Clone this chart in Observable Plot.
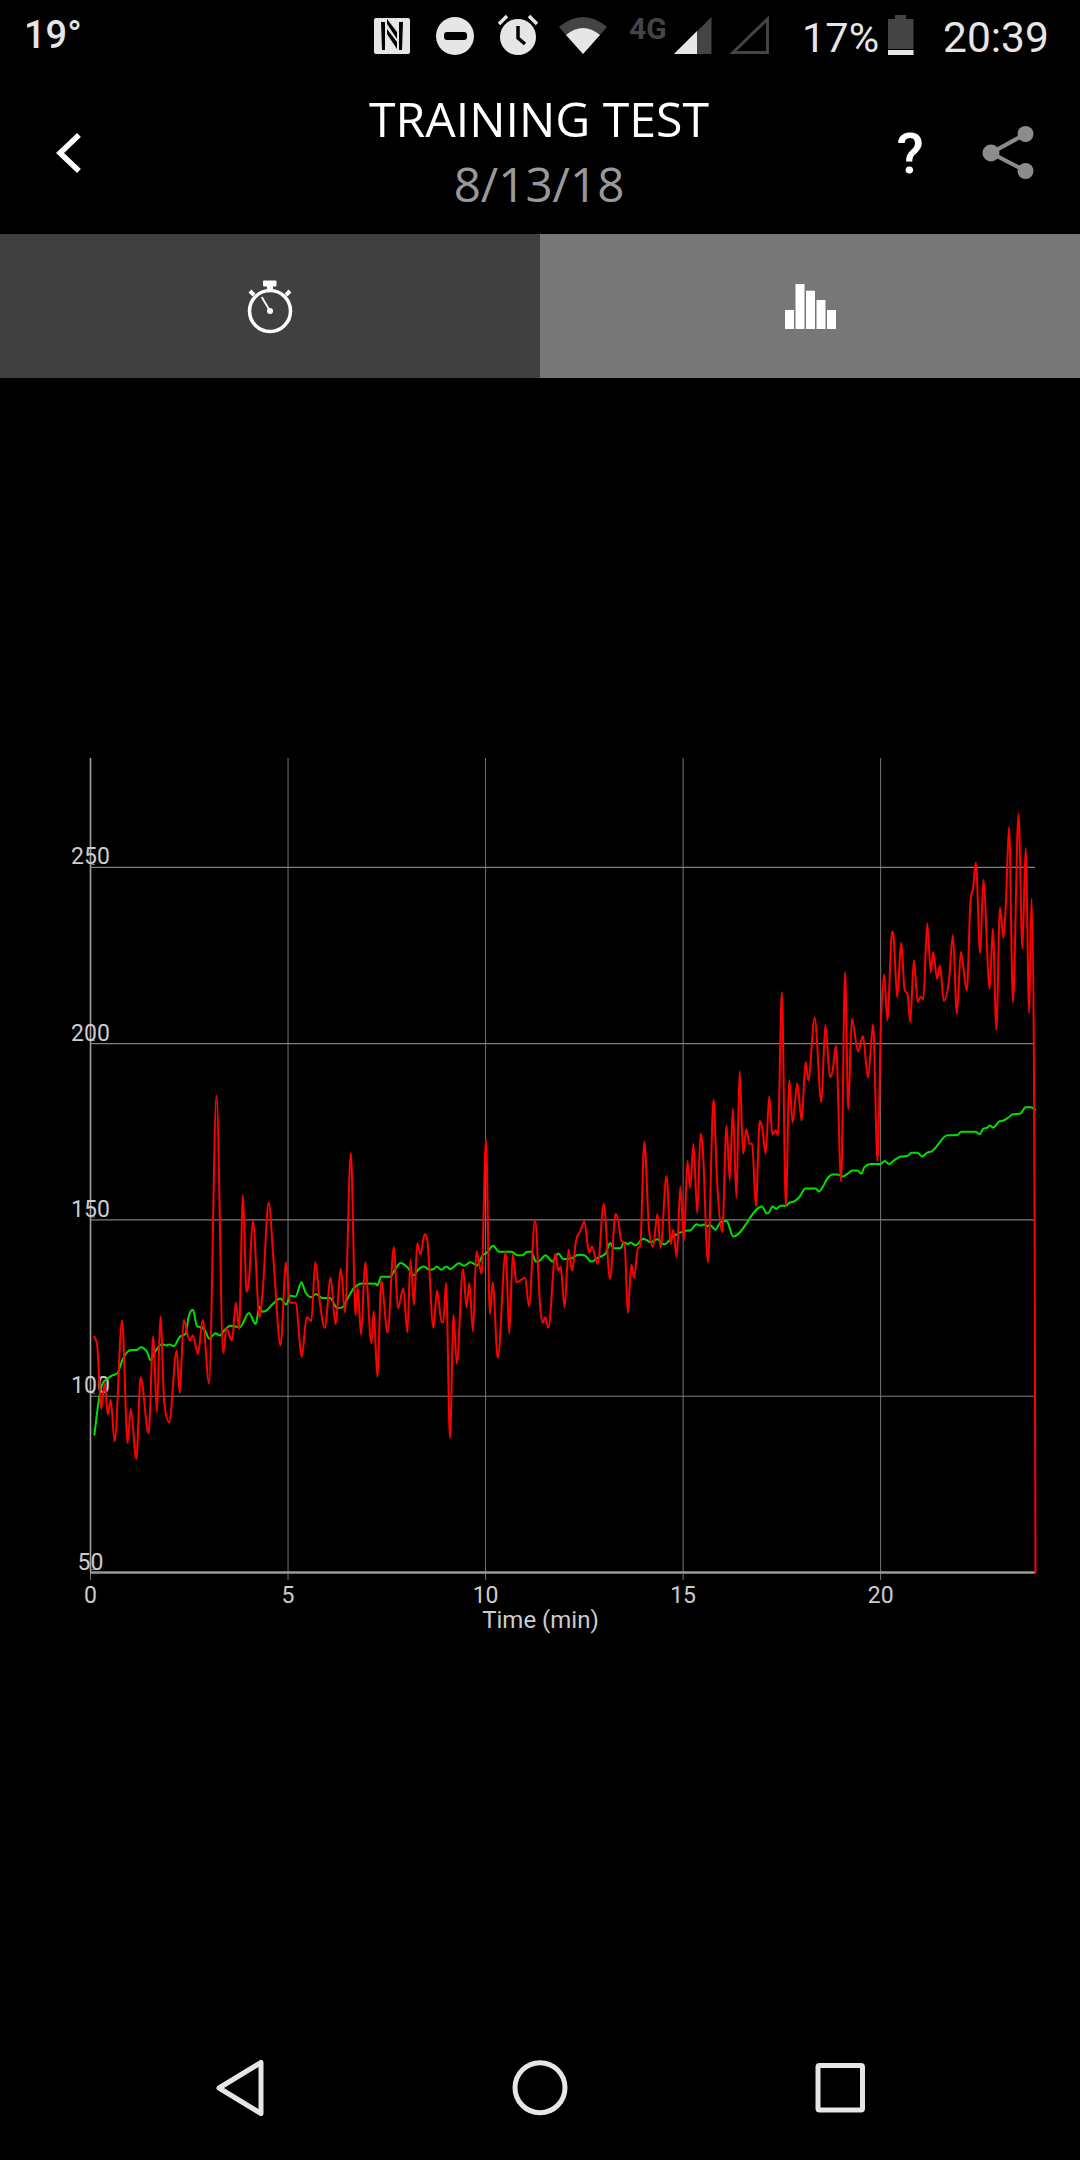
<!DOCTYPE html>
<html>
<head>
<meta charset="utf-8">
<script src="https://cdn.jsdelivr.net/npm/d3@7"></script>
<script src="https://cdn.jsdelivr.net/npm/@observablehq/plot@0.6"></script>
<style>
html,body{margin:0;padding:0;background:#000;}
#page{position:relative;width:1080px;height:2160px;background:#000;overflow:hidden;}
#chrome{position:absolute;left:0;top:0;}
#chart{position:absolute;left:0;top:740px;}
</style>
</head>
<body>
<div id="page">
<svg id="chrome" width="1080" height="2160" viewBox="0 0 1080 2160">
  <!-- status bar -->
  <text x="24" y="48" font-family="Roboto" font-size="38" font-weight="500" fill="#e6e6e6">19°</text>
  <rect x="374" y="18" width="36" height="36" rx="2" fill="#e6e6e6"/>
  <path d="M381 22h4v28h-3zM403 22h-4v28h3zM387 24l10 15v-7l-10-13zM387 34l10 15v-7l-10-13z" fill="#000"/>
  <circle cx="455" cy="36" r="19" fill="#e6e6e6"/>
  <rect x="444" y="32" width="23" height="8" rx="3" fill="#000"/>
  <circle cx="518" cy="37" r="18" fill="#e6e6e6"/>
  <path d="M499 24l8-8M537 24l-8-8" stroke="#e6e6e6" stroke-width="3.5" fill="none"/>
  <path d="M518 26v12l7 6" stroke="#000" stroke-width="3.5" fill="none"/>
  <path d="M559 27Q583 7 607 27L583 54Z" fill="#444"/>
  <path d="M566 35Q583 21 600 35L583 54Z" fill="#e6e6e6"/>
  <text x="629" y="39" font-family="Roboto" font-size="30" font-weight="700" fill="#444">4G</text>
  <path d="M674 54L711.5 17V54Z" fill="#444"/>
  <path d="M674 54L697 31V54Z" fill="#e6e6e6"/>
  <path d="M733 52.5L767.5 19V52.5Z" fill="none" stroke="#444" stroke-width="3"/>
  <text x="802" y="52" font-family="Roboto" font-size="41.5" fill="#e6e6e6">17%</text>
  <rect x="895" y="15" width="11" height="5" fill="#444"/>
  <rect x="888" y="19" width="25.5" height="30" fill="#444"/>
  <rect x="888" y="50" width="25.5" height="5" fill="#e6e6e6"/>
  <text x="943" y="52" font-family="Roboto" font-size="42.5" fill="#e6e6e6">20:39</text>
  <!-- header -->
  <path d="M79 135L60 153L79 171" fill="none" stroke="#fff" stroke-width="5.5"/>
  <text x="539" y="137" text-anchor="middle" font-family="Open Sans" font-size="48.2" fill="#fff">TRAINING TEST</text>
  <text x="539" y="202" text-anchor="middle" font-family="Open Sans" font-size="47.5" fill="#999">8/13/18</text>
  <text x="910" y="173" text-anchor="middle" font-family="Roboto" font-size="56" font-weight="500" fill="#fff">?</text>
  <g fill="#8c8c8c" stroke="#8c8c8c">
    <path d="M1025.5 134L991 153L1025.5 171" fill="none" stroke-width="4"/>
    <circle cx="1025.5" cy="134" r="8" stroke="none"/>
    <circle cx="991" cy="153" r="8.5" stroke="none"/>
    <circle cx="1025.5" cy="171" r="8" stroke="none"/>
  </g>
  <!-- tabs -->
  <rect x="0" y="234" width="540" height="144" fill="#404040"/>
  <rect x="540" y="234" width="540" height="144" fill="#777"/>
  <g fill="#fff" stroke="none">
    <rect x="263" y="280.5" width="13.5" height="6" rx="1"/>
    <rect x="267" y="285" width="6" height="5"/>
    <circle cx="270" cy="311" r="3"/>
  </g>
  <circle cx="270" cy="311" r="20.5" fill="none" stroke="#fff" stroke-width="3.5"/>
  <path d="M270 311L261.7 297" stroke="#fff" stroke-width="1.8" fill="none"/>
  <path d="M250 291l4 4M290 291l-4 4" stroke="#fff" stroke-width="4" fill="none"/>
  <g fill="#fff">
    <rect x="785" y="310" width="9" height="19"/>
    <rect x="795.5" y="284" width="9" height="45"/>
    <rect x="806" y="290.7" width="9" height="38.3"/>
    <rect x="816.5" y="300" width="9" height="29"/>
    <rect x="827" y="310" width="9" height="19"/>
  </g>
  <!-- nav -->
  <path d="M219 2088L261 2062.5V2113.5Z" fill="none" stroke="#e6e6e6" stroke-width="5" stroke-linejoin="round"/>
  <circle cx="540" cy="2087.7" r="25" fill="none" stroke="#e6e6e6" stroke-width="5"/>
  <rect x="818" y="2065.5" width="44.5" height="44.5" rx="1.5" fill="none" stroke="#e6e6e6" stroke-width="5"/>
</svg>
<div id="chart"></div>
</div>
<script>
const xTicks = [0, 5, 10, 15, 20];
const yTicks = [50, 100, 150, 200, 250];
const xDomain = [0, 23.92];
const yDomain = [50, 280.9];
const axisTitle = "Time (min)";

const redTime = [0.10,0.17,0.27,0.36,0.44,0.51,0.61,0.80,0.94,1.02,1.16,1.27,1.47,1.59,1.68,1.77,1.87,1.99,2.18,2.26,2.36,2.51,2.59,2.72,2.84,3.00,3.19,3.36,3.44,3.58,3.68,3.76,3.86,3.95,4.01,4.11,4.28,4.36,4.51,4.64,4.81,4.95,5.05,5.19,5.35,5.47,5.59,5.69,5.81,5.93,6.08,6.20,6.34,6.44,6.59,6.71,6.76,6.85,6.95,7.11,7.17,7.26,7.36,7.52,7.68,7.78,7.92,8.02,8.10,8.19,8.27,8.35,8.46,8.52,8.68,8.77,8.89,8.93,9.00,9.10,9.19,9.27,9.43,9.52,9.59,9.68,9.77,9.90,10.01,10.11,10.18,10.31,10.51,10.60,10.69,10.78,11.00,11.10,11.25,11.39,11.45,11.51,11.59,11.77,11.84,11.90,12.00,12.10,12.19,12.29,12.41,12.50,12.62,12.69,12.84,12.99,13.15,13.29,13.36,13.43,13.52,13.60,13.69,13.76,13.86,13.91,14.02,14.14,14.24,14.35,14.43,14.58,14.69,14.75,14.84,14.93,15.02,15.11,15.18,15.26,15.36,15.44,15.49,15.63,15.77,15.86,15.99,16.10,16.18,16.26,16.35,16.43,16.52,16.60,16.68,16.75,16.84,16.94,17.00,17.09,17.18,17.26,17.34,17.40,17.50,17.60,17.69,17.77,17.89,18.00,18.10,18.17,18.33,18.50,18.60,18.72,18.78,18.87,19.00,19.10,19.18,19.27,19.43,19.55,19.68,19.81,19.92,20.01,20.09,20.17,20.29,20.32,20.42,20.52,20.61,20.68,20.75,20.84,20.94,21.01,21.08,21.18,21.27,21.33,21.43,21.50,21.60,21.73,21.83,21.93,22.03,22.18,22.28,22.34,22.41,22.52,22.60,22.76,22.84,22.93,23.02,23.11,23.17,23.25,23.35,23.49,23.59,23.67,23.76,23.82,23.88,23.90,23.92];
const redValue = [116.9,114.4,96.4,103.8,94.8,99,87.2,121.5,86.7,96.4,82.2,105.4,89.5,117,95.5,122.7,97.8,92.6,112.9,100.9,121.6,115.8,117.2,112,121.6,103.7,185.3,112.2,119.3,115.8,126.5,119,157,129.5,132.8,149.8,122.4,130,154.9,137.5,114.4,137.9,126.5,126.5,111.2,122.4,121.3,138.1,126.2,119.4,133.6,120.5,136.1,123.8,169,122.9,130.9,117.4,138,115,124.1,105.6,132.6,118.1,142.4,125,130.6,118.1,138.8,125.9,143.5,140.2,146,144.6,119.4,130,121,121,132.1,88.2,123.1,109.2,136.1,125.2,132.1,118.4,141.1,134.7,172.7,123.3,132.3,110.9,141,117.7,140.4,132.3,133.6,125.5,150.1,124.3,120.8,122.4,119.4,140.4,135.6,136.8,125.2,141.6,135.6,144.1,147.2,149.6,140.8,142.5,137.5,154.5,133.3,151.7,149.8,144.3,143.2,123.6,137.3,133.6,142.2,142.2,172.2,147,142.4,151.7,142,162.5,143.2,147.2,139.4,159.5,144.1,166.8,159.1,171.6,151.9,174.5,171.6,138,184.2,161.2,146.5,176.8,161.2,181.6,156.3,192.2,168.8,175.7,171.6,171.6,153.8,178.1,176.3,168.8,185.1,174.2,175.4,174,214.6,154.1,189.6,177.6,188.8,178.2,194.8,189.6,207.4,183.4,205.4,190.5,192,199.4,160.9,220.3,181.3,207.1,197.8,202.2,190.4,205.5,166.7,206.6,219.6,206.6,231.8,231.2,213.1,228.7,215.1,214.2,206.1,223.7,211.8,213.4,212.5,234.1,220.2,226,218.4,222.2,212.1,218,230.8,208.5,226,215.1,241.2,244,251.4,225.7,246.4,215.6,232.6,204,238.6,230,239.7,261.5,211.8,265.3,226.9,255.5,208.7,241.2,196.2,135.7,50];

const greenTime = [0.10,0.21,0.30,0.42,0.55,0.68,0.80,0.93,1.03,1.18,1.27,1.42,1.52,1.65,1.82,1.92,2.00,2.11,2.26,2.41,2.49,2.59,2.70,2.78,2.89,3.01,3.16,3.27,3.38,3.54,3.67,3.78,4.01,4.18,4.28,4.35,4.45,4.60,4.81,4.95,5.06,5.19,5.34,5.44,5.59,5.71,5.87,6.06,6.25,6.37,6.50,6.67,6.88,7.22,7.26,7.36,7.58,7.72,7.85,8.02,8.19,8.27,8.44,8.57,8.69,8.76,8.88,9.01,9.10,9.33,9.45,9.62,9.79,9.92,10.04,10.19,10.34,10.66,10.80,10.93,11.06,11.16,11.27,11.35,11.52,11.69,11.84,11.97,12.11,12.36,12.51,12.68,12.83,13.04,13.15,13.25,13.42,13.50,13.60,13.67,13.80,13.99,14.18,14.35,14.52,14.77,15.06,15.19,15.34,15.44,15.53,15.61,15.68,15.82,15.95,16.10,16.27,17.00,17.11,17.17,17.26,17.36,17.47,17.60,17.68,17.81,17.93,18.10,18.35,18.44,18.52,18.65,18.78,18.92,19.03,19.16,19.28,19.41,19.51,19.59,19.75,20.00,20.10,20.21,20.34,20.51,20.69,20.78,20.93,21.05,21.18,21.28,21.69,21.94,22.04,22.40,22.51,22.60,22.70,22.76,22.85,23.01,23.11,23.25,23.35,23.53,23.67,23.80,23.91];
const greenValue = [89.1,98.8,103.5,104.9,105.9,106.5,110.1,112.5,113.1,113.1,113.9,112.8,110.3,112.9,114.8,114.4,114.7,114.2,116.9,117.7,122.9,124.5,119.8,119.6,118.8,116.3,117.9,117.2,118.6,120,119.8,119.6,123.6,120.5,125.4,124,124.3,126,127.7,126,128.5,128.3,132.3,129.5,128.1,129,127.9,127.9,125,125.2,127.6,130.7,132,131.9,131.4,133.9,133.9,136.1,137.8,136.6,134.3,135.6,136.8,135.9,136.1,136.8,135.9,136.8,136.1,137.7,137,138,137.1,139.9,140.8,142.7,141,141,140,140,141,141,138.2,138.3,140,138.2,140.5,138.9,138.9,140.1,139.9,138.2,139.2,140.5,143.5,142,142,143.6,143.2,143.6,142.8,144.7,143.7,144.5,143.1,145.5,146.9,147.1,148.8,148.4,148.7,148.2,148.6,147.2,149.4,149.7,145.3,153.8,151.9,152.1,153.8,153.2,154,154,154.8,155.3,156.3,158.9,158.9,158.1,159.1,161.7,162.9,162.9,162.3,163.1,164,164,163.1,165,165.9,165.9,166.7,165.9,166.9,168,168.2,169.1,169.1,168,169.1,169.4,174,174.1,175,175,174.3,175.9,176.2,176.8,176.2,178,178.2,179.2,180,180.1,182,182,181.3];

const red = redTime.map((t, i) => ({t, v: redValue[i]}));
const green = greenTime.map((t, i) => ({t, v: greenValue[i]}));

const plot = Plot.plot({
  width: 1080,
  height: 932,
  marginTop: 18,
  marginBottom: 100,
  marginLeft: 90,
  marginRight: 45,
  style: {background: "transparent", fontFamily: "Roboto", color: "#cccccc", overflow: "visible"},
  x: {domain: xDomain, axis: null},
  y: {domain: yDomain, axis: null},
  marks: [
    Plot.ruleX(xTicks.slice(1), {x: d => d, stroke: "#757575", strokeWidth: 1}),
    Plot.ruleY(yTicks.slice(1), {y: d => d, stroke: "#808080", strokeWidth: 1.2}),
    Plot.ruleX([0], {stroke: "#a0a0a0", strokeWidth: 1.6}),
    Plot.axisX({ticks: xTicks, tickSize: 8, tickPadding: 6, tickFormat: d => String(d), fontSize: 23, stroke: "#757575", label: null, fill: "#cccccc"}),
    Plot.axisY({ticks: yTicks, tickSize: 5, tickPadding: 0, dx: 5, dy: -3, textAnchor: "middle", lineAnchor: "bottom", tickFormat: d => String(d), fontSize: 23, stroke: "#808080", label: null, fill: "#cccccc"}),
    Plot.ruleY([50], {stroke: "#9a9a9a", strokeWidth: 2.5}),
    Plot.line(green, {x: "t", y: "v", stroke: "#00e000", strokeWidth: 2, curve: "monotone-x"}),
    Plot.line(red, {x: "t", y: "v", stroke: "#ff0000", strokeWidth: 2, curve: "monotone-x"}),
    Plot.text([axisTitle], {x: 11.39, y: 50, dy: 48, fontSize: 24, fill: "#cccccc", textAnchor: "middle"})
  ]
});
document.getElementById("chart").appendChild(plot);
</script>
</body>
</html>
